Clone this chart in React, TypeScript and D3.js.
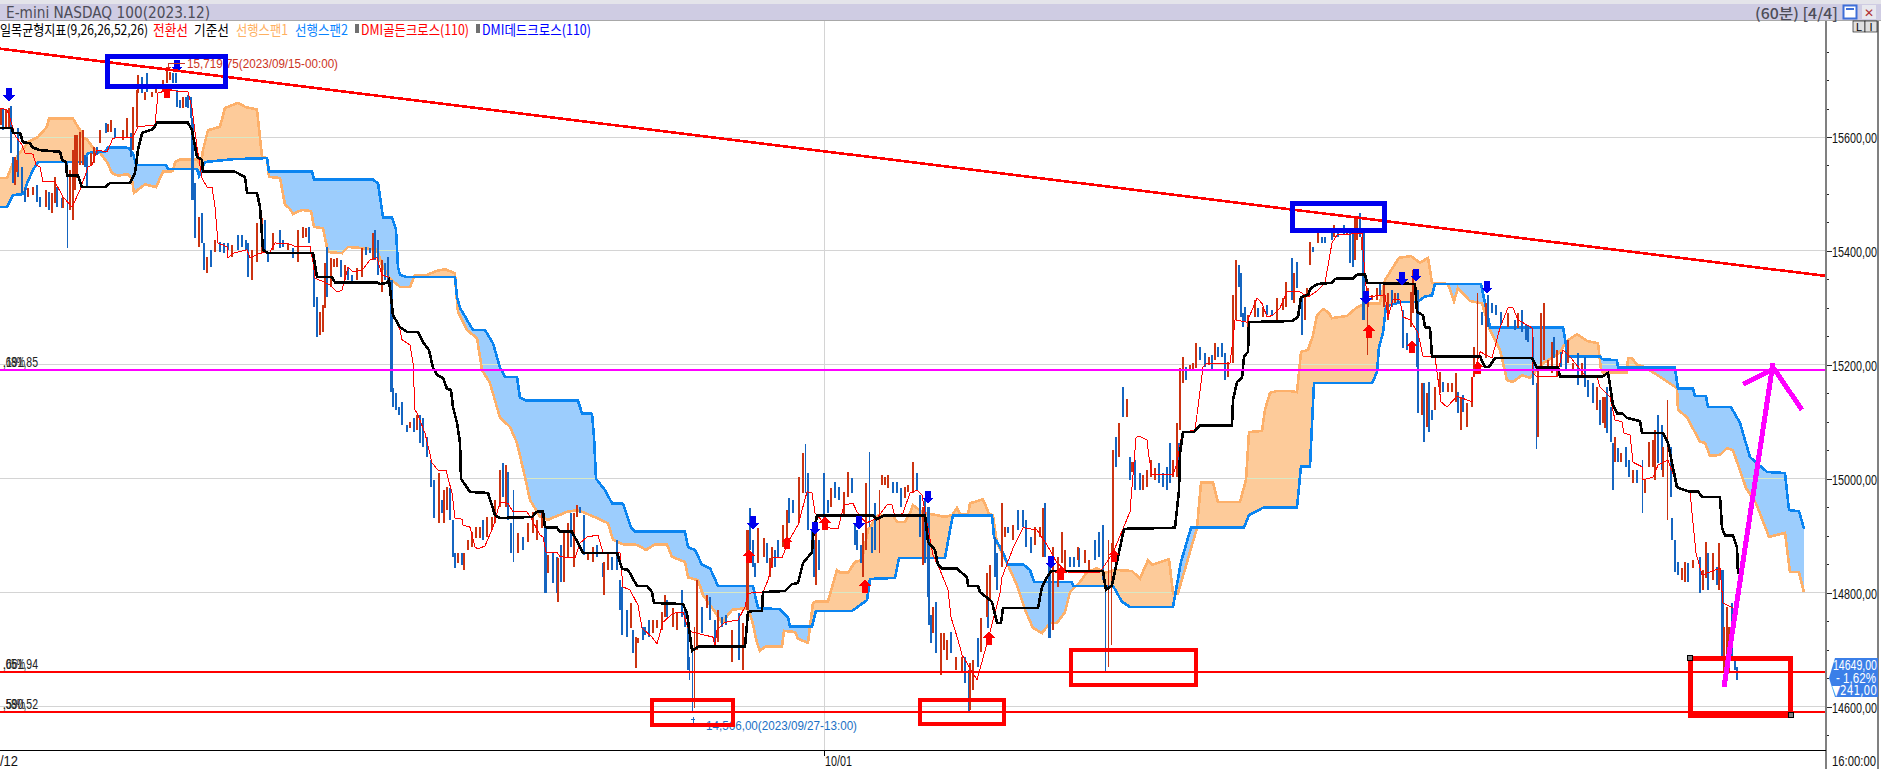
import { useEffect, useRef } from 'react'
import * as d3 from 'd3'

type Pt = [number, number]
type Bar = [number, number, number]

const WIDTH = 1881
const HEIGHT = 769

// time slot, price
const kijun: Pt[] = [[0,15616],[6,15616],[6.5,15607],[10,15607],[11.5,15591],[15,15589],[16,15582],[20,15577],[30,15574],[31,15560],[33,15556],[33.5,15532],[39,15532],[41,15512],[52.5,15512],[55,15519],[65,15519],[67.5,15537],[69,15577],[71,15607],[76.5,15614],[78.5,15625],[94,15625],[96,15612],[98.5,15565],[101,15560],[101.5,15539],[117.5,15539],[122.5,15530],[123.5,15502],[128.5,15502],[130,15477],[131.5,15402],[134,15396],[156.5,15396],[158.5,15354],[166,15354],[167.5,15345],[188.5,15345],[190,15342],[193.5,15344],[194.5,15349],[195.5,15319],[196.5,15287],[200,15266],[203.5,15258],[209,15258],[211.5,15240],[214.5,15226],[216.5,15195],[218.5,15182],[221.5,15177],[223.5,15158],[225.5,15156],[226.5,15126],[228.5,15098],[230,15063],[230.5,15000],[235,14977],[244,14975],[247.5,14936],[250,14931],[266,14933],[268.5,14942],[271.5,14943],[272.5,14915],[278.5,14914],[280,14907],[286,14907],[291.5,14870],[308.5,14870],[311,14842],[314,14840],[318.5,14812],[323.5,14812],[326,14801],[327,14782],[341.5,14780],[343.5,14764],[346,14698],[349,14705],[372.5,14705],[374,14766],[376.5,14768],[381,14768],[381.5,14801],[392.5,14803],[396,14815],[399,14817],[401.5,14852],[406,14871],[406.5,14898],[408.5,14936],[436.5,14936],[438.5,14929],[442.5,14936],[462.5,14936],[464,14889],[467.5,14875],[469,14849],[471,14842],[478.5,14842],[483.5,14827],[484,14812],[489,14812],[490,14801],[496,14784],[498.5,14747],[500.5,14747],[501.5,14773],[519,14773],[521,14810],[523.5,14827],[525.5,14838],[551.5,14838],[553,14805],[556,14813],[559,14863],[562,14912],[587.5,14914],[589.5,14980],[590,15045],[591.5,15082],[597,15082],[600,15094],[616,15094],[616.5,15138],[618.5,15170],[621,15177],[622,15214],[624,15223],[624.5,15275],[646,15277],[649,15284],[650.5,15319],[654,15323],[655.5,15335],[659,15342],[666,15344],[667.5,15351],[676.5,15352],[678.5,15358],[682.5,15359],[683.5,15344],[707.5,15342],[708.5,15293],[711.5,15287],[712.5,15266],[715,15265],[716,15215],[740,15215],[742.5,15196],[744.5,15196],[747.5,15212],[766,15212],[768.5,15195],[779,15195],[780,15180],[801.5,15180],[804,15186],[806.5,15130],[808.5,15115],[811,15115],[813.5,15107],[820,15101],[821,15080],[831.5,15080],[834,15063],[838.5,14985],[844,14978],[849,14978],[851,14968],[860,14968],[861,14914],[862.5,14900],[866.5,14900],[868.5,14879],[869,14833]]

const tenkan: Pt[] = [[0,15651],[3.5,15648],[5,15633],[7.5,15603],[11,15586],[12.5,15572],[16.5,15570],[18,15551],[20,15547],[21.5,15521],[27.5,15521],[31.5,15495],[36,15477],[40,15507],[44,15547],[46,15551],[48.5,15577],[53.5,15574],[56.5,15598],[66.5,15600],[69,15618],[77.5,15621],[79,15677],[83.5,15682],[94,15679],[96,15651],[98.5,15582],[101,15528],[103.5,15512],[106,15512],[107.5,15477],[109,15414],[113.5,15407],[114,15388],[116.5,15396],[123.5,15402],[125,15388],[130,15396],[135,15398],[137.5,15414],[145,15412],[147.5,15408],[155,15408],[156.5,15381],[157.5,15352],[162.5,15345],[165,15340],[168.5,15328],[171,15331],[174,15372],[176.5,15363],[181,15366],[185,15384],[188.5,15388],[191,15358],[194,15354],[196,15291],[200,15261],[201,15244],[205,15235],[206.5,15203],[207.5,15121],[209,15112],[212.5,15080],[216,15028],[219,15015],[223,15015],[226,14975],[227.5,14931],[231,14929],[231.5,14919],[235,14915],[237.5,14880],[239,14877],[242.5,14882],[246.5,14915],[250,14959],[254,14957],[256.5,14942],[263.5,14942],[266,14928],[270,14901],[271.5,14898],[273,14871],[278.5,14871],[280,14863],[287.5,14861],[290,14887],[293.5,14898],[299,14901],[301.5,14870],[310,14870],[311.5,14810],[315,14805],[319,14778],[321,14738],[326,14722],[328.5,14710],[331.5,14748],[336.5,14764],[341.5,14766],[344,14738],[346,14731],[356.5,14722],[357.5,14705],[358.5,14735],[362.5,14748],[369,14752],[372.5,14775],[374,14799],[381.5,14801],[384,14822],[386.5,14861],[391,14861],[394,14889],[399,14919],[403.5,14977],[406,14975],[407.5,14940],[414,14914],[419,14912],[422,14954],[426.5,14957],[428.5,14942],[433,14922],[438.5,14931],[443.5,14954],[446,14954],[447.5,14933],[451.5,14940],[455,14975],[458.5,14980],[461,14971],[466.5,14866],[470,14840],[474,14805],[475.5,14757],[479,14717],[481,14691],[483.5,14676],[488.5,14647],[494,14717],[500,14799],[501,14827],[506.5,14878],[511.5,14914],[518.5,14910],[523.5,14884],[528.5,14852],[534,14836],[550,14836],[556.5,14870],[565,14942],[568,15072],[569.5,15075],[573.5,15068],[574.5,15038],[576,15007],[586.5,15007],[588.5,15028],[591,15080],[597.5,15086],[599,15126],[601.5,15196],[603.5,15203],[615,15203],[616.5,15244],[617.5,15279],[623.5,15275],[628.5,15317],[631,15308],[633.5,15284],[636.5,15287],[640,15300],[643.5,15328],[650,15328],[654,15319],[659,15331],[662.5,15344],[666,15414],[668.5,15428],[681,15431],[681.5,15402],[683.5,15319],[692.5,15323],[694,15284],[696.5,15314],[700,15314],[701.5,15284],[705,15279],[709,15256],[711.5,15215],[717.5,15214],[720.5,15135],[723.5,15126],[728.5,15145],[736,15135],[736.5,15179],[740,15223],[746,15212],[750,15265],[754,15300],[756.5,15300],[759,15279],[766,15265],[766.5,15186],[768.5,15179],[778.5,15180],[781.5,15226],[785,15214],[792.5,15182],[798.5,15179],[800,15161],[805,15144],[807.5,15103],[811,15100],[812,15080],[815,15077],[816.5,15029],[821,15021],[821.5,14998],[826.5,15003],[829,15024],[834,15033],[837.5,14998],[839,14985],[845,14977],[846.5,14922],[848,14870],[851,14831],[860,14843],[861.5,14782],[866.5,14773]]

const span1: Pt[] = [[0,15528],[3.5,15528],[6.5,15554],[9,15568],[14,15591],[19,15600],[23.5,15618],[24.5,15632],[30,15633],[36.5,15632],[40,15612],[41.5,15598],[43.5,15596],[46.5,15581],[50,15572],[53.5,15556],[56,15537],[59,15532],[64,15535],[66,15525],[67,15502],[72.5,15517],[78,15512],[81.5,15539],[86.5,15540],[87.5,15556],[90,15561],[98.5,15560],[100.5,15551],[101.5,15577],[104,15612],[110,15618],[112.5,15651],[119,15660],[122.5,15653],[128.5,15648],[131,15565],[133.5,15563],[134.5,15530],[140,15528],[142.5,15481],[145,15474],[146.5,15465],[151,15472],[155.5,15470],[157,15442],[161.5,15440],[164,15398],[171,15396],[174,15407],[181,15405],[188.5,15402],[191,15375],[195,15351],[200,15337],[205,15337],[207.5,15358],[213.5,15358],[218.5,15365],[222.5,15368],[227.5,15361],[228,15330],[229,15293],[233.5,15261],[238.5,15247],[241,15191],[245,15168],[250,15107],[255,15091],[258.5,15063],[262.5,15003],[265,14963],[270,14933],[274,14928],[283.5,14942],[289,14945],[298.5,14931],[304,14922],[306.5,14893],[311.5,14885],[318.5,14884],[323,14875],[327.5,14885],[333.5,14885],[336,14863],[342.5,14854],[344,14827],[349,14822],[351.5,14796],[357.5,14766],[361,14747],[366,14770],[373.5,14773],[376,14752],[378.5,14712],[380,14698],[382.5,14705],[391,14705],[392,14733],[397.5,14731],[399,14719],[404,14712],[406.5,14782],[408.5,14785],[414,14785],[418.5,14840],[420,14835],[424,14835],[427.5,14854],[431,14857],[434,14910],[439,14936],[446.5,14936],[448.5,14924],[452.5,14924],[455,14940],[456.5,14954],[461.5,14940],[468.5,14936],[472.5,14933],[476,14936],[478.5,14949],[480,14938],[484,14938],[485,14957],[491.5,14964],[494.5,14938],[496.5,14936],[498.5,14887],[503.5,14852],[508.5,14813],[512.5,14770],[516.5,14738],[521,14729],[525,14747],[528.5,14747],[532.5,14766],[535,14801],[540,14819],[543.5,14836],[548.5,14843],[552.5,14835],[557.5,14840],[566,14838],[570,14825],[574,14857],[576,14849],[584.5,14859],[586.5,14799],[589,14799],[598.5,14914],[600.5,14993],[606.5,14993],[609,14959],[620,14959],[623,14998],[624.5,15082],[631,15084],[632.5,15121],[635,15151],[638.5,15154],[645,15154],[648.5,15152],[650.5,15223],[654,15226],[656.5,15252],[658.5,15287],[661.5,15298],[664,15293],[666,15282],[673.5,15286],[678.5,15301],[682.5,15308],[690,15308],[692.5,15349],[699.5,15388],[705.5,15391],[710,15379],[714,15388],[716,15344],[724,15342],[727,15312],[729,15335],[735,15312],[741,15308],[745,15261],[750,15226],[753.5,15173],[756.5,15170],[761,15182],[765,15177],[771.5,15203],[776,15212],[780,15223],[783.5,15242],[788.5,15254],[793.5,15242],[799,15238],[800.5,15191],[801.5,15187],[813.5,15187],[814,15212],[816,15212],[818.5,15200],[822.5,15196],[830,15179],[838.5,15159],[839,15121],[843.5,15108],[845,15098],[850,15065],[852.5,15063],[855,15040],[860,15042],[863.5,15054],[866.5,15050],[873,14984],[878,14957],[884.5,14898],[892.5,14905],[895,14836],[899.5,14836],[902,14801]]

const span2: Pt[] = [[0,15477],[3.5,15477],[6.5,15498],[12,15500],[13.5,15519],[16.5,15542],[19,15556],[41.5,15556],[44,15572],[52.5,15574],[54,15582],[64,15581],[66.5,15572],[68,15551],[83,15551],[84,15544],[98.5,15544],[99.5,15532],[102.5,15556],[116.5,15561],[133.5,15563],[134.5,15539],[156,15539],[157,15525],[186.5,15525],[189,15519],[191.5,15459],[196,15459],[198,15437],[199,15372],[200,15358],[203.5,15354],[227.5,15354],[228.5,15319],[230,15300],[233.5,15279],[236.5,15261],[242.5,15261],[246.5,15238],[250,15195],[252.5,15179],[258.5,15179],[260,15142],[263.5,15137],[289,15137],[291,15115],[296,15114],[297,15073],[298,15000],[302.5,14980],[306,14957],[311.5,14956],[315.5,14914],[317.5,14907],[342.5,14907],[344,14880],[347.5,14875],[351,14849],[355,14843],[359,14812],[376.5,14812],[379,14773],[390,14771],[394,14757],[395,14741],[406,14741],[408,14768],[426,14768],[430,14778],[433.5,14787],[435,14824],[447.5,14826],[449.5,14861],[472.5,14861],[475,14910],[476.5,14936],[496,14936],[497,14898],[501.5,14871],[504,14849],[511.5,14850],[515,14840],[517,14819],[536,14819],[536.5,14812],[556.5,14812],[561,14784],[565,14775],[586.5,14775],[590.5,14854],[595.5,14914],[622,14914],[624.5,14936],[632,14950],[648.5,14950],[650.5,15022],[655,15022],[657,15168],[686,15168],[688.5,15187],[689.5,15231],[691.5,15256],[693,15303],[700,15310],[708.5,15310],[712.5,15320],[716,15322],[717.5,15342],[740.5,15342],[745,15266],[781.5,15266],[784,15215],[800,15215],[801,15210],[808.5,15208],[809,15195],[837.5,15195],[839,15158],[846.5,15158],[847.5,15145],[853,15145],[854,15126],[865.5,15126],[870,15098],[875,15038],[883.5,15012],[892.5,15010],[894.5,14945],[899.5,14943],[902,14912]]

// time slot, high, low
const downBars: Bar[] = [[1.5,15651,15612],[5.5,15655,15572],[6.5,15565,15519],[9,15616,15530],[11,15547,15502],[12.5,15510,15486],[18.5,15516,15486],[20,15495,15477],[24.5,15503,15472],[28.5,15512,15477],[31,15493,15475],[33.5,15554,15405],[42.5,15568,15547],[43.5,15565,15512],[48.5,15582,15568],[53,15625,15607],[57.5,15616,15598],[65.5,15607,15565],[71,15705,15677],[73.5,15712,15679],[86.5,15712,15695],[88,15712,15695],[88.5,15682,15653],[90,15665,15651],[93,15670,15653],[94,15674,15651],[95.5,15670,15633],[96,15633,15489],[97.5,15519,15423],[101,15467,15414],[102,15414,15367],[105.5,15402,15372],[110,15416,15398],[112,15414,15396],[114,15414,15402],[119,15428,15402],[121,15428,15407],[123,15419,15402],[124,15414,15354],[132.5,15454,15396],[134,15396,15381],[140,15437,15405],[141.5,15419,15407],[146.5,15405,15388],[154.5,15442,15414],[157,15379,15301],[158.5,15319,15249],[163.5,15407,15319],[170.5,15384,15354],[174,15372,15349],[176,15358,15344],[183,15407,15393],[185,15405,15396],[187.5,15437,15384],[189,15419,15358],[192.5,15379,15349],[194,15389,15344],[195.5,15349,15152],[196.5,15159,15126],[198,15150,15121],[199.5,15126,15112],[201,15135,15094],[203.5,15094,15082],[207,15107,15082],[210,15112,15063],[211.5,15107,15056],[213.5,15073,15038],[215.5,15033,14985],[217,14998,14931],[221,14963,14940],[225,14984,14928],[226.5,14928,14863],[227.5,14870,14843],[231,14870,14849],[241.5,14928,14892],[251.5,15028,14968],[254,15012,14928],[255.5,14922,14870],[256.5,14980,14854],[261.5,14898,14875],[272.5,14915,14799],[276.5,14871,14817],[278.5,14863,14799],[280.5,14884,14819],[285.5,14940,14880],[290,14950,14940],[292,14936,14866],[298.5,14884,14863],[301.5,14852,14827],[306,14863,14840],[308.5,14892,14840],[310,14822,14770],[311,14810,14726],[313.5,14770,14722],[316.5,14735,14694],[321.5,14740,14717],[322.5,14740,14726],[324.5,14752,14722],[333.5,14787,14757],[341,14805,14757],[342.5,14770,14740],[344,14752,14664],[344.5,14687,14647],[346,14699,14590],[351,14775,14729],[355,14792,14752],[357.5,14752,14712],[361,14757,14740],[363,14761,14743],[369.5,14764,14682],[375,14949,14875],[376.5,14892,14845],[377.5,14852,14827],[383.5,14887,14852],[387.5,14875,14845],[389,14892,14863],[394.5,14966,14922],[396.5,14963,14940],[402.5,15061,14975],[404,15010,14910],[406,14910,14887],[407,14892,14827],[409.5,14892,14840],[412,15010,14910],[414,14963,14940],[417.5,14994,14966],[419.5,14985,14963],[426,15001,14975],[427.5,14919,14884],[428.5,14910,14875],[430.5,14884,14852],[434.5,15047,14915],[436,14915,14870],[437.5,14957,14875],[446.5,14994,14975],[448.5,14994,14975],[450.5,14984,14950],[458.5,15010,14980],[460,14971,14898],[462.5,14966,14852],[464,14950,14792],[464.5,14792,14743],[465.5,14761,14712],[468,14784,14694],[475.5,14731,14694],[482.5,14687,14641],[484.5,14664,14590],[489,14720,14670],[494,14787,14738],[497.5,14898,14827],[498.5,14870,14805],[504,14915,14905],[509,14945,14910],[511.5,14945,14915],[513,14928,14880],[515.5,14898,14870],[522.5,14957,14863],[524.5,14857,14720],[535,14863,14845],[537,14863,14845],[539.5,14878,14845],[547.5,14892,14857],[549.5,14906,14863],[551.5,14919,14822],[552.5,14817,14661],[558,15073,15020],[561.5,15161,15108],[565,15038,14998],[567.5,15033,14980],[570,15010,14980],[579.5,15028,14992],[581.5,15010,14985],[583.5,15021,14980],[585,15063,14992],[589.5,15063,15003],[593,15197,15173],[600,15231,15208],[602.5,15220,15196],[606,15217,15191],[609,15231,15214],[611,15238,15214],[612.5,15220,15173],[619.5,15375,15337],[620.5,15361,15284],[621.5,15291,15266],[622.5,15301,15275],[629,15300,15284],[633.5,15305,15287],[636,15296,15287],[646,15388,15314],[648.5,15381,15335],[651,15319,15252],[656.5,15407,15398],[661,15424,15414],[662.5,15424,15414],[666,15433,15419],[669,15440,15424],[672,15445,15428],[675,15437,15379],[676.5,15431,15372],[680,15467,15424],[681.5,15433,15279],[690,15344,15323],[696,15331,15301],[699,15326,15308],[701.5,15296,15230],[703.5,15256,15226],[708.5,15331,15196],[709,15208,15115],[712,15168,15065],[714.5,15170,15082],[716,15121,15103],[721.5,15170,15152],[729,15152,15115],[731.5,15147,15117],[741,15293,15270],[744,15323,15266],[746,15309,15291],[748,15305,15287],[750.5,15293,15270],[757.5,15279,15261],[761,15296,15258],[763,15270,15244],[764,15270,15240],[766.5,15249,15165],[768,15168,15052],[777,15249,15212],[780.5,15223,15196],[783,15226,15191],[789,15220,15165],[792.5,15214,15161],[794,15173,15143],[796.5,15168,15133],[800,15138,15094],[803.5,15161,15080],[805.5,15126,15065],[806.5,15063,14980],[809,15054,15029],[813,15056,15021],[814.5,15033,15003],[818.5,15015,14992],[821,15033,14940],[829,15112,15028],[831,15094,15015],[835.5,15056,14968],[836,14931,14892],[837.5,14892,14836],[839,14854,14831],[844,14852,14819],[850,14863,14799],[854,14870,14805],[858.5,14845,14813],[861,14840,14682],[866,14782,14682],[867.5,14682,14664],[868.5,14670,14647]]

const upBars: Bar[] = [[0.5,15651,15621],[3,15648,15616],[4.5,15651,15616],[7.5,15565,15516],[8.5,15560,15539],[14,15510,15495],[16.5,15512,15498],[23,15507,15477],[26,15502,15467],[27.5,15530,15484],[31.5,15495,15475],[35,15542,15472],[36.5,15577,15454],[37.5,15603,15507],[38.5,15603,15528],[40,15609,15551],[41.5,15612,15551],[45.5,15572,15551],[47,15582,15554],[50,15612,15589],[54,15623,15609],[55.5,15630,15609],[61.5,15612,15595],[63.5,15633,15598],[66.5,15653,15577],[68.5,15682,15618],[69,15709,15677],[72.5,15679,15665],[76,15679,15670],[78,15686,15677],[81.5,15700,15682],[83.5,15718,15695],[85,15714,15700],[91.5,15670,15651],[99.5,15459,15407],[103.5,15389,15361],[107.5,15419,15398],[116,15410,15389],[126,15402,15349],[128.5,15449,15381],[131,15458,15396],[136.5,15431,15402],[144,15414,15402],[149,15437,15381],[151.5,15442,15423],[153,15440,15424],[160,15293,15252],[161.5,15305,15258],[162.5,15379,15300],[165.5,15388,15337],[167,15386,15372],[168.5,15388,15372],[172.5,15375,15349],[178.5,15370,15349],[181,15405,15354],[186.5,15431,15384],[191,15384,15328],[205,15100,15089],[208.5,15112,15086],[219.5,15010,14922],[222,14980,14922],[223.5,14985,14945],[229,14870,14852],[232,14870,14840],[234,14892,14875],[236,14907,14880],[238,14915,14896],[240,14915,14896],[243.5,14933,14898],[246,14933,14910],[247.5,14963,14922],[250,15015,14950],[253,15024,14950],[259,14905,14870],[264,14922,14889],[266.5,14942,14905],[268.5,14928,14892],[271,14942,14914],[274,14866,14835],[279,14861,14784],[282,14905,14819],[284,14922,14863],[287,14940,14845],[288.5,14954,14933],[294,14870,14857],[296.5,14880,14854],[302,14854,14796],[304,14870,14840],[315.5,14782,14738],[318,14722,14668],[319,14720,14712],[326.5,14752,14729],[328.5,14752,14738],[331,14766,14735],[332.5,14796,14757],[336.5,14773,14740],[338.5,14764,14735],[347,14740,14597],[348.5,14822,14699],[353.5,14796,14773],[359,14770,14714],[366,14735,14678],[371.5,14747,14664],[373.5,14910,14770],[379,14914,14852],[382,14896,14863],[385,14861,14827],[386,14880,14843],[391.5,14919,14880],[393.5,14945,14892],[399.5,15003,14922],[401.5,15045,14975],[408,14905,14813],[415.5,14984,14950],[422,14977,14936],[424,15012,14968],[431.5,14905,14827],[433,14992,14875],[439.5,14980,14870],[441,15006,14989],[442.5,15003,14989],[444,15006,14984],[452.5,14985,14966],[454,14989,14977],[456.5,15029,14975],[461.5,14950,14849],[466.5,14775,14729],[470.5,14729,14655],[472,14729,14699],[473.5,14717,14682],[478,14687,14664],[481,14687,14659],[485,14676,14594],[486.5,14682,14629],[490.5,14755,14696],[493.5,14834,14757],[495,14849,14787],[501,14957,14845],[502.5,14915,14898],[506.5,14919,14892],[517.5,14915,14884],[520,14915,14898],[521.5,14949,14863],[526.5,14880,14735],[529,14863,14810],[531,14906,14852],[532.5,14875,14834],[539,14880,14857],[542.5,14875,14852],[544.5,14857,14840],[554,14892,14670],[555.5,14887,14708],[556.5,15050,14857],[559.5,15098,15038],[563.5,15140,15108],[566,15029,15012],[571.5,15006,14980],[573.5,15015,14985],[575.5,15033,15003],[577.5,15019,14998],[586.5,15033,15003],[588.5,15098,15003],[590,15194,15086],[591.5,15214,15168],[595,15200,15191],[596.5,15203,15191],[598,15238,15194],[604.5,15214,15200],[607.5,15238,15208],[614,15205,15179],[616.5,15323,15203],[618,15384,15279],[624,15287,15261],[627.5,15314,15284],[631.5,15301,15284],[638.5,15317,15275],[641.5,15317,15296],[643,15345,15301],[647,15361,15308],[652.5,15323,15279],[653.5,15335,15319],[655,15416,15375],[659,15431,15414],[667,15445,15424],[673.5,15440,15428],[677.5,15459,15384],[678.5,15459,15419],[681,15424,15402],[683.5,15308,15217],[684,15335,15301],[686,15323,15314],[688.5,15335,15314],[692,15344,15301],[694,15326,15279],[697.5,15326,15308],[705.5,15328,15266],[706.5,15367,15291],[711,15168,15112],[713.5,15150,15091],[717.5,15161,15121],[720,15187,15150],[724,15168,15152],[726,15168,15152],[728,15186,15135],[730.5,15143,15086],[733.5,15133,15091],[736,15179,15126],[737,15231,15179],[738.5,15326,15191],[743,15309,15212],[754,15291,15266],[759,15291,15265],[769,15191,15073],[770.5,15291,15191],[772,15309,15208],[774,15208,15191],[776,15240,15186],[778.5,15226,15179],[784,15244,15203],[786.5,15203,15191],[791,15203,15177],[798.5,15161,15121],[801.5,15143,15098],[802.5,15143,15089],[807.5,15073,15029],[810.5,15045,15029],[816.5,15015,14992],[822.5,14998,14975],[824.5,15065,15021],[826.5,15068,15021],[827.5,15086,14998],[831.5,15056,15003],[833.5,15138,14928],[841,14843,14822],[842.5,14854,14819],[846.5,14857,14843],[851.5,14840,14805],[853,14889,14826],[856.5,14870,14822],[859.5,14887,14805],[862,14740,14659],[863.5,14775,14682],[864.5,14740,14659]]

// bars with a wide body, and bars that are only a long shadow
const heavySlots = [96, 195.5, 272.5, 373.5, 464, 524.5, 681.5, 708.5, 861]
const thinSlots = [33.5, 256.5, 344.5, 346, 347, 402.5, 434.5, 439.5, 552.5, 554, 555.5, 683.5, 738.5, 768, 821, 833.5]

const goldenCross: Pt[] = [[83.5,15679],[374.5,14863],[393.5,14887],[412.5,14921],[432.5,14810],[494.5,14719],[530.5,14833],[557,14864],[684.5,15258],[706,15231],[739,15194]]
const deadCross: Pt[] = [[4.5,15675],[88.5,15725],[376.5,14924],[407.5,14914],[429.5,14924],[464,14968],[525.5,14854],[683,15319],[701,15352],[708,15358],[743.5,15337]]

const trendLine: Pt[] = [[0,15755],[913,15356]]
const supportLevels = [14661, 14590]
const magentaLevel = 15191
const priceTicks = [14550,14600,14650,14700,14750,14800,14850,14900,14950,15000,15050,15100,15150,15200,15250,15300,15350,15400,15450,15500,15550,15600,15650,15700,15750]
const gridPrices = [14600,14800,15000,15200,15400,15600]
const dateSlot = 412

// slot from, slot to, price top, price bottom
const blueBoxes = [[52.5,114,15746,15684],[645,693.5,15488,15431]]
const redBoxes = [[325,367.5,14615,14564],[459,503,14615,14566],[534.5,599,14703,14634]]
const bigRedBox = [844,896.5,14689,14580]
const riseArrow: Pt[] = [[862,14634],[886.5,15203]]
const arrowHead: Pt[] = [[871.5,15166],[887,15193],[901,15121]]

const legend = [
  { text: '일목균형지표(9,26,26,52,26)', x: 0, w: 148, color: '#000000' },
  { text: '전환선', x: 153, w: 35, color: '#ff0000' },
  { text: '기준선', x: 194, w: 35, color: '#000000' },
  { text: '선행스팬1', x: 236, w: 52, color: '#ffb060' },
  { text: '선행스팬2', x: 295, w: 53, color: '#0a84ff' },
  { text: 'DMI골든크로스(110)', x: 361, w: 108, color: '#ff0000' },
  { text: 'DMI데드크로스(110)', x: 482, w: 109, color: '#0000ff' }
]

const sideLabels = [
  { y: 15205, a: ',191,85', b: '.68%' },
  { y: 14675, a: ',661,94', b: '.05%' },
  { y: 14605, a: ',590,52', b: '.58%' }
]

export default function App() {
  const svgRef = useRef<SVGSVGElement>(null)

  useEffect(() => {
    if (!svgRef.current) return
    const svg = d3.select(svgRef.current)
    svg.selectAll('*').remove()

    const x = d3.scaleLinear().domain([0, 913]).range([0, 1826])
    const y = d3.scaleLinear().domain([15600, 14600]).range([137, 706.6])

    const label = (
      parent: any, text: string, px: number, py: number, w: number, color: string,
      size = 13, family = 'Liberation Sans, "Noto Sans CJK KR"'
    ) => parent.append('text')
      .attr('x', px).attr('y', py)
      .attr('dominant-baseline', 'central')
      .attr('font-family', family)
      .attr('font-size', size)
      .attr('fill', color)
      .attr('textLength', w)
      .attr('lengthAdjust', 'spacingAndGlyphs')
      .text(text)

    // window frame
    svg.append('rect').attr('width', WIDTH).attr('height', HEIGHT).attr('fill', '#ffffff')
    svg.append('rect').attr('width', WIDTH).attr('height', 4).attr('fill', '#e4e4ea')
    svg.append('rect').attr('y', 4).attr('width', WIDTH).attr('height', 16).attr('fill', '#cfcce3')
    svg.append('rect').attr('y', 20).attr('width', WIDTH).attr('height', 1).attr('fill', '#a8a8a8')
    label(svg, 'E-mini NASDAQ 100(2023.12)', 6, 12.5, 204, '#4d4d58', 15, 'DejaVu Sans')
    label(svg, '(60분) [4/4]', 1755, 12.5, 83, '#4d4d58', 15, '"Noto Sans CJK KR"').attr('font-weight', 500)

    svg.append('rect').attr('x', 1843.5).attr('y', 5.5).attr('width', 13).attr('height', 13)
      .attr('fill', '#ffffff').attr('stroke', '#3f6fd8').attr('stroke-width', 2)
    svg.append('rect').attr('x', 1846).attr('y', 8).attr('width', 8).attr('height', 2).attr('fill', '#3f6fd8')
    svg.append('rect').attr('x', 1862).attr('y', 5).attr('width', 14).attr('height', 14).attr('fill', '#e8e8ee')
    svg.append('text').attr('x', 1869).attr('y', 12.5).attr('text-anchor', 'middle')
      .attr('dominant-baseline', 'central').attr('font-family', 'DejaVu Sans').attr('font-size', 12)
      .attr('fill', '#b03030').text('✕')

    // legend row
    legend.forEach(d => label(svg, d.text, d.x, 28.5, d.w, d.color, 14, '"Noto Sans CJK KR"'))
    ;[355, 476].forEach(px => {
      svg.append('rect').attr('x', px).attr('y', 24).attr('width', 4).attr('height', 9).attr('fill', '#707070')
    })

    const plot = svg.append('g').attr('shape-rendering', 'crispEdges')

    // grid
    plot.selectAll('.grid').data(gridPrices).enter().append('line')
      .attr('x1', 0).attr('x2', 1826)
      .attr('y1', d => y(d)).attr('y2', d => y(d))
      .attr('stroke', '#d4d4d4').attr('stroke-width', 1)
    plot.append('line').attr('x1', x(dateSlot)).attr('x2', x(dateSlot)).attr('y1', 21).attr('y2', 750)
      .attr('stroke', '#d4d4d4').attr('stroke-width', 1)

    // cloud, coloured by which span is on top
    const lineOf = d3.line<Pt>().x(d => x(d[0])).y(d => y(d[1]))
    const areaOf = (y0: number) => d3.area<Pt>().x(d => x(d[0])).y0(y0).y1(d => y(d[1]))
    const defs = svg.append('defs')
    defs.append('clipPath').attr('id', 'above-span2').append('path').attr('d', areaOf(0)(span2))
    defs.append('clipPath').attr('id', 'below-span2').append('path').attr('d', areaOf(HEIGHT)(span2))
    defs.append('clipPath').attr('id', 'above-span1').append('path').attr('d', areaOf(0)(span1))
    defs.append('clipPath').attr('id', 'below-span1').append('path').attr('d', areaOf(HEIGHT)(span1))
    plot.append('path').attr('d', areaOf(HEIGHT)(span1)).attr('fill', '#fdcb9a').attr('clip-path', 'url(#above-span2)')
    plot.append('path').attr('d', areaOf(0)(span1)).attr('fill', '#9ccdfd').attr('clip-path', 'url(#below-span2)')

    // grid shows through the cloud as a pale green line
    ;[['above-span2', 'below-span1'], ['below-span2', 'above-span1']].forEach(([outer, inner]) => {
      plot.append('g').attr('clip-path', `url(#${outer})`)
        .append('g').attr('clip-path', `url(#${inner})`)
        .selectAll('line').data(gridPrices).enter().append('line')
        .attr('x1', 0).attr('x2', 1826)
        .attr('y1', d => y(d)).attr('y2', d => y(d))
        .attr('stroke', '#d8e8c4').attr('stroke-width', 1)
    })

    plot.append('path').attr('d', lineOf(span1)).attr('fill', 'none').attr('stroke', '#fdb06a').attr('stroke-width', 2.6)
    plot.append('path').attr('d', lineOf(span2)).attr('fill', 'none').attr('stroke', '#0a84f0').attr('stroke-width', 2.6)

    // price bars
    const drawBars = (bars: Bar[], color: string) => {
      plot.append('g').selectAll('line').data(bars).enter().append('line')
        .attr('x1', d => x(d[0])).attr('x2', d => x(d[0]))
        .attr('y1', d => y(d[1])).attr('y2', d => y(d[2]))
        .attr('stroke', color)
        .attr('stroke-width', d => heavySlots.includes(d[0]) ? 3 : thinSlots.includes(d[0]) ? 1 : 2)
    }
    drawBars(downBars, '#1565c0')
    drawBars(upBars, '#cc3311')

    plot.append('path').attr('d', lineOf(tenkan)).attr('fill', 'none').attr('stroke', '#ff0000').attr('stroke-width', 1)
    plot.append('path').attr('d', lineOf(kijun)).attr('fill', 'none').attr('stroke', '#000000').attr('stroke-width', 2.6)

    // cross signals
    const upArrow = 'M0,-7L6,-1L3,-1L3,6L-3,6L-3,-1L-6,-1Z'
    const downArrow = 'M0,7L6,1L3,1L3,-6L-3,-6L-3,1L-6,1Z'
    plot.selectAll('.gold').data(goldenCross).enter().append('path')
      .attr('d', upArrow).attr('fill', '#ff0000')
      .attr('transform', d => `translate(${x(d[0])},${y(d[1])})`)
    plot.selectAll('.dead').data(deadCross).enter().append('path')
      .attr('d', downArrow).attr('fill', '#0000ee')
      .attr('transform', d => `translate(${x(d[0])},${y(d[1])})`)

    // high and low notes
    label(svg, '15,719,75(2023/09/15-00:00)', 187, 63, 151, '#cc3322', 13)
    plot.append('path').attr('d', 'M168,68L168,63L185,63').attr('fill', 'none').attr('stroke', '#cc3322')
    plot.append('path').attr('d', 'M165,67L171,67L168,70Z').attr('fill', '#cc3322')
    label(svg, '14,566,00(2023/09/27-13:00)', 706, 725, 151, '#1a6fc4', 13)
    plot.append('path').attr('d', 'M693,717L693,724M691,719L695,719').attr('stroke', '#1a6fc4').attr('fill', 'none')

    // drawn levels and boxes
    const overlay = svg.append('g').attr('shape-rendering', 'crispEdges')
    overlay.append('path').attr('d', lineOf(trendLine)).attr('fill', 'none').attr('stroke', '#ff0000').attr('stroke-width', 2.6)
    overlay.append('line').attr('x1', 0).attr('x2', 1826).attr('y1', y(magentaLevel)).attr('y2', y(magentaLevel))
      .attr('stroke', '#ff00ff').attr('stroke-width', 2)
    overlay.selectAll('.support').data(supportLevels).enter().append('line')
      .attr('x1', 0).attr('x2', 1826).attr('y1', d => y(d)).attr('y2', d => y(d))
      .attr('stroke', '#ff0000').attr('stroke-width', 2)

    const box = (b: number[], color: string, sw: number) => overlay.append('rect')
      .attr('x', x(b[0]) + sw / 2).attr('y', y(b[2]) + sw / 2)
      .attr('width', x(b[1]) - x(b[0]) - sw).attr('height', y(b[3]) - y(b[2]) - sw)
      .attr('fill', 'none').attr('stroke', color).attr('stroke-width', sw)
    blueBoxes.forEach(b => box(b, '#0000ee', 5))
    redBoxes.forEach(b => box(b, '#ff0000', 4))
    box(bigRedBox, '#ff0000', 5)
    overlay.append('rect').attr('x', x(bigRedBox[0]) - 1).attr('y', y(bigRedBox[2]))
      .attr('width', 5).attr('height', 5).attr('fill', '#808080').attr('stroke', '#000000').attr('stroke-width', 1)
    overlay.append('rect').attr('x', x(bigRedBox[1]) - 5).attr('y', y(bigRedBox[3]) - 5)
      .attr('width', 5).attr('height', 5).attr('fill', '#808080').attr('stroke', '#000000').attr('stroke-width', 1)

    overlay.append('path').attr('d', lineOf(riseArrow)).attr('fill', 'none').attr('stroke', '#ff00ff').attr('stroke-width', 5)
    overlay.append('path').attr('d', lineOf(arrowHead)).attr('fill', 'none').attr('stroke', '#ff00ff').attr('stroke-width', 5)

    // left side labels sit on top of one another
    sideLabels.forEach(d => {
      label(svg, d.a, 3, y(d.y), 35, '#222222', 15)
      label(svg, d.b, 3, y(d.y), 22, '#222222', 15)
    })

    // price axis
    const axis = d3.axisRight(y)
      .tickValues(priceTicks)
      .tickSize(3)
      .tickFormat(d => (+d % 200 === 0 ? d3.format('d')(+d) + ',00' : ''))
    const axisG = svg.append('g').attr('transform', 'translate(1826,0)').attr('shape-rendering', 'crispEdges').call(axis)
    axisG.select('.domain').remove()
    axisG.selectAll('.tick line')
      .attr('x2', d => (+(d as number) % 200 === 0 ? 6 : 3))
      .attr('stroke', '#222222')
    axisG.selectAll('.tick text')
      .attr('x', 6).attr('dy', 0)
      .attr('dominant-baseline', 'central')
      .attr('font-family', 'Liberation Sans')
      .attr('font-size', 15)
      .attr('fill', '#111111')
      .attr('textLength', 45)
      .attr('lengthAdjust', 'spacingAndGlyphs')

    svg.append('rect').attr('x', 1825).attr('y', 21).attr('width', 2).attr('height', HEIGHT - 21).attr('fill', '#808080')
    svg.append('rect').attr('x', 1877).attr('y', 21).attr('width', 2).attr('height', HEIGHT - 21).attr('fill', '#808080')

    // corner buttons
    ;[['L', 1853], ['I', 1865]].forEach(([t, px]) => {
      svg.append('rect').attr('x', +px).attr('y', 21).attr('width', 12).attr('height', 11)
        .attr('fill', '#e0e0e0').attr('stroke', '#000000').attr('stroke-width', 0.6)
      svg.append('text').attr('x', +px + 6).attr('y', 27).attr('text-anchor', 'middle')
        .attr('dominant-baseline', 'central').attr('font-family', 'Liberation Sans')
        .attr('font-size', 11).attr('fill', '#000000').text(t as string)
    })

    // last price tag
    svg.append('path').attr('d', 'M1829,678L1835,658L1878,658L1878,697L1835,697Z').attr('fill', '#3b7fe8')
    label(svg, '14649,00', 1833, 665, 44, '#ffffff', 14)
    label(svg, '- 1,62%', 1836, 678, 40, '#ffffff', 14)
    label(svg, '▼241,00', 1832, 690, 45, '#ffffff', 14, 'DejaVu Sans')

    // time axis
    svg.append('rect').attr('x', 0).attr('y', 750).attr('width', 1826).attr('height', 1).attr('fill', '#000000')
    svg.append('line').attr('x1', x(dateSlot)).attr('x2', x(dateSlot)).attr('y1', 750).attr('y2', 756)
      .attr('stroke', '#000000').attr('shape-rendering', 'crispEdges')
    label(svg, '/12', 0, 760, 18, '#111111', 15)
    label(svg, '10/01', 825, 760, 27, '#111111', 15)
    label(svg, '16:00:00', 1832, 760, 44, '#111111', 15)
  }, [])

  return (
    <svg
      ref={svgRef}
      width={WIDTH}
      height={HEIGHT}
      style={{ position: 'fixed', left: 0, top: 0, display: 'block' }}
    />
  )
}
